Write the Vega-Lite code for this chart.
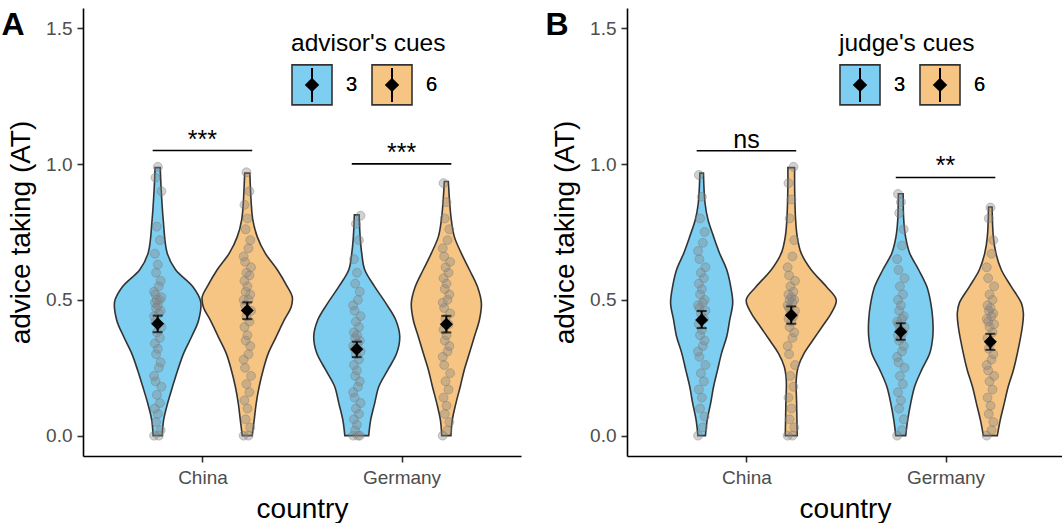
{
"$schema": "https://vega.github.io/schema/vega-lite/v6.json",
"padding": {"left": 1, "top": 8, "right": 0, "bottom": 0},
"spacing": 24,
"config": {
  "view": {"stroke": null},
  "font": "Liberation Sans",
  "axis": {"grid": false, "domainColor": "black", "domainWidth": 1.6, "tickColor": "#333333", "tickWidth": 1.6, "tickSize": 6, "labelFontSize": 19, "labelColor": "#4D4D4D", "titleFontSize": 28, "titleFontWeight": "normal", "titleColor": "black", "labelFlush": false, "labelOverlap": false},
  "axisX": {"labelPadding": 6, "titlePadding": 8},
  "axisY": {"labelPadding": 5, "titlePadding": 10},
  "title": {"fontSize": 32, "fontWeight": "bold", "color": "black", "anchor": "start", "frame": "bounds", "offset": -34, "dx": -6}
},
"datasets": {
  "violA": [
    {"country":"China","cue":"3","at":0.987,"lo":0.762,"hi":0.788},
    {"country":"China","cue":"3","at":0.917,"lo":0.758,"hi":0.792},
    {"country":"China","cue":"3","at":0.795,"lo":0.747,"hi":0.803},
    {"country":"China","cue":"3","at":0.672,"lo":0.727,"hi":0.823},
    {"country":"China","cue":"3","at":0.611,"lo":0.685,"hi":0.865},
    {"country":"China","cue":"3","at":0.549,"lo":0.599,"hi":0.951},
    {"country":"China","cue":"3","at":0.494,"lo":0.559,"hi":0.991},
    {"country":"China","cue":"3","at":0.426,"lo":0.569,"hi":0.981},
    {"country":"China","cue":"3","at":0.365,"lo":0.604,"hi":0.946},
    {"country":"China","cue":"3","at":0.304,"lo":0.644,"hi":0.906},
    {"country":"China","cue":"3","at":0.242,"lo":0.674,"hi":0.876},
    {"country":"China","cue":"3","at":0.181,"lo":0.700,"hi":0.850},
    {"country":"China","cue":"3","at":0.119,"lo":0.725,"hi":0.825},
    {"country":"China","cue":"3","at":0.058,"lo":0.745,"hi":0.805},
    {"country":"China","cue":"3","at":0.0,"lo":0.752,"hi":0.798},
    {"country":"China","cue":"6","at":0.967,"lo":1.212,"hi":1.238},
    {"country":"China","cue":"6","at":0.856,"lo":1.205,"hi":1.245},
    {"country":"China","cue":"6","at":0.795,"lo":1.197,"hi":1.253},
    {"country":"China","cue":"6","at":0.733,"lo":1.175,"hi":1.275},
    {"country":"China","cue":"6","at":0.672,"lo":1.135,"hi":1.315},
    {"country":"China","cue":"6","at":0.611,"lo":1.074,"hi":1.376},
    {"country":"China","cue":"6","at":0.549,"lo":1.024,"hi":1.426},
    {"country":"China","cue":"6","at":0.512,"lo":0.999,"hi":1.451},
    {"country":"China","cue":"6","at":0.475,"lo":1.004,"hi":1.446},
    {"country":"China","cue":"6","at":0.426,"lo":1.039,"hi":1.411},
    {"country":"China","cue":"6","at":0.365,"lo":1.079,"hi":1.371},
    {"country":"China","cue":"6","at":0.304,"lo":1.119,"hi":1.331},
    {"country":"China","cue":"6","at":0.242,"lo":1.145,"hi":1.305},
    {"country":"China","cue":"6","at":0.181,"lo":1.165,"hi":1.285},
    {"country":"China","cue":"6","at":0.119,"lo":1.180,"hi":1.270},
    {"country":"China","cue":"6","at":0.058,"lo":1.190,"hi":1.260},
    {"country":"China","cue":"6","at":0.0,"lo":1.200,"hi":1.250},
    {"country":"Germany","cue":"3","at":0.813,"lo":1.763,"hi":1.787},
    {"country":"Germany","cue":"3","at":0.733,"lo":1.758,"hi":1.792},
    {"country":"Germany","cue":"3","at":0.672,"lo":1.750,"hi":1.800},
    {"country":"Germany","cue":"3","at":0.611,"lo":1.735,"hi":1.815},
    {"country":"Germany","cue":"3","at":0.549,"lo":1.685,"hi":1.865},
    {"country":"Germany","cue":"3","at":0.488,"lo":1.629,"hi":1.921},
    {"country":"Germany","cue":"3","at":0.426,"lo":1.579,"hi":1.971},
    {"country":"Germany","cue":"3","at":0.365,"lo":1.559,"hi":1.991},
    {"country":"Germany","cue":"3","at":0.304,"lo":1.574,"hi":1.976},
    {"country":"Germany","cue":"3","at":0.242,"lo":1.619,"hi":1.931},
    {"country":"Germany","cue":"3","at":0.181,"lo":1.664,"hi":1.886},
    {"country":"Germany","cue":"3","at":0.119,"lo":1.685,"hi":1.865},
    {"country":"Germany","cue":"3","at":0.058,"lo":1.705,"hi":1.845},
    {"country":"Germany","cue":"3","at":0.0,"lo":1.715,"hi":1.835},
    {"country":"Germany","cue":"6","at":0.936,"lo":2.215,"hi":2.235},
    {"country":"Germany","cue":"6","at":0.856,"lo":2.208,"hi":2.242},
    {"country":"Germany","cue":"6","at":0.795,"lo":2.200,"hi":2.250},
    {"country":"Germany","cue":"6","at":0.733,"lo":2.185,"hi":2.265},
    {"country":"Germany","cue":"6","at":0.672,"lo":2.150,"hi":2.300},
    {"country":"Germany","cue":"6","at":0.611,"lo":2.109,"hi":2.341},
    {"country":"Germany","cue":"6","at":0.549,"lo":2.069,"hi":2.381},
    {"country":"Germany","cue":"6","at":0.488,"lo":2.049,"hi":2.401},
    {"country":"Germany","cue":"6","at":0.426,"lo":2.059,"hi":2.391},
    {"country":"Germany","cue":"6","at":0.365,"lo":2.084,"hi":2.366},
    {"country":"Germany","cue":"6","at":0.304,"lo":2.109,"hi":2.341},
    {"country":"Germany","cue":"6","at":0.242,"lo":2.135,"hi":2.315},
    {"country":"Germany","cue":"6","at":0.181,"lo":2.155,"hi":2.295},
    {"country":"Germany","cue":"6","at":0.119,"lo":2.177,"hi":2.273},
    {"country":"Germany","cue":"6","at":0.058,"lo":2.195,"hi":2.255},
    {"country":"Germany","cue":"6","at":0.0,"lo":2.202,"hi":2.248}
  ],
  "violB": [
    {"country":"China","cue":"3","at":0.967,"lo":0.766,"hi":0.784},
    {"country":"China","cue":"3","at":0.856,"lo":0.758,"hi":0.792},
    {"country":"China","cue":"3","at":0.795,"lo":0.743,"hi":0.807},
    {"country":"China","cue":"3","at":0.733,"lo":0.715,"hi":0.835},
    {"country":"China","cue":"3","at":0.672,"lo":0.685,"hi":0.865},
    {"country":"China","cue":"3","at":0.611,"lo":0.649,"hi":0.901},
    {"country":"China","cue":"3","at":0.549,"lo":0.629,"hi":0.921},
    {"country":"China","cue":"3","at":0.488,"lo":0.619,"hi":0.931},
    {"country":"China","cue":"3","at":0.426,"lo":0.634,"hi":0.916},
    {"country":"China","cue":"3","at":0.365,"lo":0.649,"hi":0.901},
    {"country":"China","cue":"3","at":0.304,"lo":0.675,"hi":0.875},
    {"country":"China","cue":"3","at":0.242,"lo":0.695,"hi":0.855},
    {"country":"China","cue":"3","at":0.181,"lo":0.715,"hi":0.835},
    {"country":"China","cue":"3","at":0.119,"lo":0.730,"hi":0.820},
    {"country":"China","cue":"3","at":0.058,"lo":0.747,"hi":0.803},
    {"country":"China","cue":"3","at":0.0,"lo":0.756,"hi":0.794},
    {"country":"China","cue":"6","at":0.987,"lo":1.208,"hi":1.242},
    {"country":"China","cue":"6","at":0.917,"lo":1.208,"hi":1.242},
    {"country":"China","cue":"6","at":0.795,"lo":1.203,"hi":1.247},
    {"country":"China","cue":"6","at":0.733,"lo":1.195,"hi":1.255},
    {"country":"China","cue":"6","at":0.672,"lo":1.175,"hi":1.275},
    {"country":"China","cue":"6","at":0.611,"lo":1.125,"hi":1.325},
    {"country":"China","cue":"6","at":0.549,"lo":1.049,"hi":1.401},
    {"country":"China","cue":"6","at":0.500,"lo":0.999,"hi":1.451},
    {"country":"China","cue":"6","at":0.451,"lo":1.024,"hi":1.426},
    {"country":"China","cue":"6","at":0.402,"lo":1.069,"hi":1.381},
    {"country":"China","cue":"6","at":0.353,"lo":1.115,"hi":1.335},
    {"country":"China","cue":"6","at":0.304,"lo":1.160,"hi":1.290},
    {"country":"China","cue":"6","at":0.254,"lo":1.190,"hi":1.260},
    {"country":"China","cue":"6","at":0.205,"lo":1.200,"hi":1.250},
    {"country":"China","cue":"6","at":0.119,"lo":1.198,"hi":1.252},
    {"country":"China","cue":"6","at":0.0,"lo":1.195,"hi":1.255},
    {"country":"Germany","cue":"3","at":0.891,"lo":1.763,"hi":1.787},
    {"country":"Germany","cue":"3","at":0.795,"lo":1.760,"hi":1.790},
    {"country":"Germany","cue":"3","at":0.733,"lo":1.751,"hi":1.799},
    {"country":"Germany","cue":"3","at":0.672,"lo":1.730,"hi":1.820},
    {"country":"Germany","cue":"3","at":0.611,"lo":1.685,"hi":1.865},
    {"country":"Germany","cue":"3","at":0.549,"lo":1.644,"hi":1.906},
    {"country":"Germany","cue":"3","at":0.488,"lo":1.624,"hi":1.926},
    {"country":"Germany","cue":"3","at":0.426,"lo":1.614,"hi":1.936},
    {"country":"Germany","cue":"3","at":0.365,"lo":1.614,"hi":1.936},
    {"country":"Germany","cue":"3","at":0.304,"lo":1.629,"hi":1.921},
    {"country":"Germany","cue":"3","at":0.242,"lo":1.670,"hi":1.880},
    {"country":"Germany","cue":"3","at":0.181,"lo":1.705,"hi":1.845},
    {"country":"Germany","cue":"3","at":0.119,"lo":1.725,"hi":1.825},
    {"country":"Germany","cue":"3","at":0.058,"lo":1.740,"hi":1.810},
    {"country":"Germany","cue":"3","at":0.0,"lo":1.750,"hi":1.800},
    {"country":"Germany","cue":"6","at":0.842,"lo":2.216,"hi":2.234},
    {"country":"Germany","cue":"6","at":0.733,"lo":2.210,"hi":2.240},
    {"country":"Germany","cue":"6","at":0.672,"lo":2.197,"hi":2.253},
    {"country":"Germany","cue":"6","at":0.611,"lo":2.170,"hi":2.280},
    {"country":"Germany","cue":"6","at":0.549,"lo":2.120,"hi":2.330},
    {"country":"Germany","cue":"6","at":0.488,"lo":2.069,"hi":2.381},
    {"country":"Germany","cue":"6","at":0.451,"lo":2.059,"hi":2.391},
    {"country":"Germany","cue":"6","at":0.402,"lo":2.064,"hi":2.386},
    {"country":"Germany","cue":"6","at":0.304,"lo":2.089,"hi":2.361},
    {"country":"Germany","cue":"6","at":0.242,"lo":2.109,"hi":2.341},
    {"country":"Germany","cue":"6","at":0.181,"lo":2.135,"hi":2.315},
    {"country":"Germany","cue":"6","at":0.119,"lo":2.155,"hi":2.295},
    {"country":"Germany","cue":"6","at":0.058,"lo":2.175,"hi":2.275},
    {"country":"Germany","cue":"6","at":0.0,"lo":2.190,"hi":2.260}
  ],
  "ptsA": [
    {"x":0.757,"at":0},{"x":0.781,"at":0},{"x":0.790,"at":0.02},{"x":0.767,"at":0.05},{"x":0.776,"at":0.08},{"x":0.761,"at":0.1},{"x":0.786,"at":0.12},{"x":0.771,"at":0.15},{"x":0.794,"at":0.18},{"x":0.764,"at":0.2},
    {"x":0.757,"at":0.22},{"x":0.781,"at":0.25},{"x":0.790,"at":0.27},{"x":0.767,"at":0.3},{"x":0.776,"at":0.32},{"x":0.761,"at":0.34},{"x":0.786,"at":0.36},{"x":0.771,"at":0.38},{"x":0.794,"at":0.4},{"x":0.764,"at":0.42},
    {"x":0.757,"at":0.44},{"x":0.781,"at":0.45},{"x":0.790,"at":0.46},{"x":0.767,"at":0.47},{"x":0.776,"at":0.48},{"x":0.761,"at":0.49},{"x":0.786,"at":0.5},{"x":0.771,"at":0.5},{"x":0.794,"at":0.51},{"x":0.764,"at":0.52},
    {"x":0.757,"at":0.53},{"x":0.781,"at":0.55},{"x":0.790,"at":0.57},{"x":0.767,"at":0.6},{"x":0.776,"at":0.63},{"x":0.761,"at":0.67},{"x":0.786,"at":0.72},{"x":0.771,"at":0.77},{"x":0.794,"at":0.9},{"x":0.764,"at":0.95},{"x":0.776,"at":0.99},
    {"x":1.207,"at":0},{"x":1.231,"at":0},{"x":1.240,"at":0.03},{"x":1.217,"at":0.06},{"x":1.226,"at":0.1},{"x":1.211,"at":0.13},{"x":1.236,"at":0.16},{"x":1.221,"at":0.19},{"x":1.244,"at":0.22},{"x":1.214,"at":0.25},
    {"x":1.207,"at":0.28},{"x":1.231,"at":0.3},{"x":1.240,"at":0.33},{"x":1.217,"at":0.35},{"x":1.226,"at":0.37},{"x":1.211,"at":0.4},{"x":1.236,"at":0.42},{"x":1.221,"at":0.44},{"x":1.244,"at":0.46},{"x":1.214,"at":0.48},
    {"x":1.207,"at":0.5},{"x":1.231,"at":0.5},{"x":1.240,"at":0.52},{"x":1.217,"at":0.53},{"x":1.226,"at":0.55},{"x":1.211,"at":0.57},{"x":1.236,"at":0.59},{"x":1.221,"at":0.6},{"x":1.244,"at":0.62},{"x":1.214,"at":0.64},
    {"x":1.207,"at":0.66},{"x":1.231,"at":0.69},{"x":1.240,"at":0.72},{"x":1.217,"at":0.76},{"x":1.226,"at":0.8},{"x":1.211,"at":0.85},{"x":1.236,"at":0.9},{"x":1.221,"at":0.97},
    {"x":1.757,"at":0},{"x":1.781,"at":0},{"x":1.790,"at":0},{"x":1.767,"at":0.02},{"x":1.776,"at":0.04},{"x":1.761,"at":0.06},{"x":1.786,"at":0.08},{"x":1.771,"at":0.1},{"x":1.794,"at":0.12},{"x":1.764,"at":0.14},
    {"x":1.757,"at":0.16},{"x":1.781,"at":0.18},{"x":1.790,"at":0.2},{"x":1.767,"at":0.22},{"x":1.776,"at":0.24},{"x":1.761,"at":0.26},{"x":1.786,"at":0.28},{"x":1.771,"at":0.3},{"x":1.794,"at":0.31},{"x":1.764,"at":0.32},
    {"x":1.757,"at":0.33},{"x":1.781,"at":0.34},{"x":1.790,"at":0.35},{"x":1.767,"at":0.36},{"x":1.776,"at":0.37},{"x":1.761,"at":0.38},{"x":1.786,"at":0.4},{"x":1.771,"at":0.42},{"x":1.794,"at":0.44},{"x":1.764,"at":0.46},
    {"x":1.757,"at":0.48},{"x":1.781,"at":0.5},{"x":1.790,"at":0.53},{"x":1.767,"at":0.56},{"x":1.776,"at":0.6},{"x":1.761,"at":0.65},{"x":1.786,"at":0.72},{"x":1.771,"at":0.78},{"x":1.794,"at":0.81},
    {"x":2.207,"at":0},{"x":2.231,"at":0.02},{"x":2.240,"at":0.05},{"x":2.217,"at":0.08},{"x":2.226,"at":0.11},{"x":2.211,"at":0.14},{"x":2.236,"at":0.17},{"x":2.221,"at":0.2},{"x":2.244,"at":0.23},{"x":2.214,"at":0.26},
    {"x":2.207,"at":0.29},{"x":2.231,"at":0.31},{"x":2.240,"at":0.33},{"x":2.217,"at":0.35},{"x":2.226,"at":0.37},{"x":2.211,"at":0.39},{"x":2.236,"at":0.41},{"x":2.221,"at":0.43},{"x":2.244,"at":0.45},{"x":2.214,"at":0.47},
    {"x":2.207,"at":0.49},{"x":2.231,"at":0.5},{"x":2.240,"at":0.52},{"x":2.217,"at":0.54},{"x":2.226,"at":0.56},{"x":2.211,"at":0.58},{"x":2.236,"at":0.6},{"x":2.221,"at":0.62},{"x":2.244,"at":0.64},{"x":2.214,"at":0.66},
    {"x":2.207,"at":0.69},{"x":2.231,"at":0.72},{"x":2.240,"at":0.76},{"x":2.217,"at":0.8},{"x":2.226,"at":0.86},{"x":2.211,"at":0.93}
  ],
  "ptsB": [
    {"x":0.757,"at":0},{"x":0.781,"at":0.03},{"x":0.790,"at":0.07},{"x":0.767,"at":0.1},{"x":0.776,"at":0.14},{"x":0.761,"at":0.17},{"x":0.786,"at":0.2},{"x":0.771,"at":0.23},{"x":0.794,"at":0.26},{"x":0.764,"at":0.29},
    {"x":0.757,"at":0.31},{"x":0.781,"at":0.33},{"x":0.790,"at":0.35},{"x":0.767,"at":0.37},{"x":0.776,"at":0.39},{"x":0.761,"at":0.41},{"x":0.786,"at":0.43},{"x":0.771,"at":0.45},{"x":0.794,"at":0.46},{"x":0.764,"at":0.47},
    {"x":0.757,"at":0.48},{"x":0.781,"at":0.49},{"x":0.790,"at":0.5},{"x":0.767,"at":0.52},{"x":0.776,"at":0.54},{"x":0.761,"at":0.56},{"x":0.786,"at":0.58},{"x":0.771,"at":0.6},{"x":0.794,"at":0.62},{"x":0.764,"at":0.65},
    {"x":0.757,"at":0.68},{"x":0.781,"at":0.71},{"x":0.790,"at":0.75},{"x":0.767,"at":0.8},{"x":0.776,"at":0.88},{"x":0.761,"at":0.96},
    {"x":1.207,"at":0},{"x":1.231,"at":0},{"x":1.240,"at":0.03},{"x":1.217,"at":0.06},{"x":1.226,"at":0.1},{"x":1.211,"at":0.14},{"x":1.236,"at":0.18},{"x":1.221,"at":0.22},{"x":1.244,"at":0.26},{"x":1.214,"at":0.3},
    {"x":1.207,"at":0.33},{"x":1.231,"at":0.36},{"x":1.240,"at":0.38},{"x":1.217,"at":0.4},{"x":1.226,"at":0.42},{"x":1.211,"at":0.43},{"x":1.236,"at":0.44},{"x":1.221,"at":0.45},{"x":1.244,"at":0.46},{"x":1.214,"at":0.47},
    {"x":1.207,"at":0.48},{"x":1.231,"at":0.49},{"x":1.240,"at":0.5},{"x":1.217,"at":0.5},{"x":1.226,"at":0.51},{"x":1.211,"at":0.52},{"x":1.236,"at":0.53},{"x":1.221,"at":0.55},{"x":1.244,"at":0.57},{"x":1.214,"at":0.59},
    {"x":1.207,"at":0.62},{"x":1.231,"at":0.66},{"x":1.240,"at":0.72},{"x":1.217,"at":0.8},{"x":1.226,"at":0.87},{"x":1.211,"at":0.93},{"x":1.236,"at":0.99},
    {"x":1.757,"at":0},{"x":1.781,"at":0.02},{"x":1.790,"at":0.06},{"x":1.767,"at":0.1},{"x":1.776,"at":0.13},{"x":1.761,"at":0.16},{"x":1.786,"at":0.19},{"x":1.771,"at":0.22},{"x":1.794,"at":0.25},{"x":1.764,"at":0.27},
    {"x":1.757,"at":0.29},{"x":1.781,"at":0.31},{"x":1.790,"at":0.33},{"x":1.767,"at":0.35},{"x":1.776,"at":0.36},{"x":1.761,"at":0.37},{"x":1.786,"at":0.38},{"x":1.771,"at":0.39},{"x":1.794,"at":0.4},{"x":1.764,"at":0.41},
    {"x":1.757,"at":0.42},{"x":1.781,"at":0.43},{"x":1.790,"at":0.44},{"x":1.767,"at":0.46},{"x":1.776,"at":0.48},{"x":1.761,"at":0.5},{"x":1.786,"at":0.52},{"x":1.771,"at":0.55},{"x":1.794,"at":0.58},{"x":1.764,"at":0.61},
    {"x":1.757,"at":0.65},{"x":1.781,"at":0.7},{"x":1.790,"at":0.76},{"x":1.767,"at":0.82},{"x":1.776,"at":0.86},{"x":1.761,"at":0.89},
    {"x":2.207,"at":0},{"x":2.231,"at":0.02},{"x":2.240,"at":0.05},{"x":2.217,"at":0.08},{"x":2.226,"at":0.11},{"x":2.211,"at":0.14},{"x":2.236,"at":0.17},{"x":2.221,"at":0.2},{"x":2.244,"at":0.22},{"x":2.214,"at":0.24},
    {"x":2.207,"at":0.26},{"x":2.231,"at":0.28},{"x":2.240,"at":0.3},{"x":2.217,"at":0.32},{"x":2.226,"at":0.34},{"x":2.211,"at":0.36},{"x":2.236,"at":0.38},{"x":2.221,"at":0.4},{"x":2.244,"at":0.41},{"x":2.214,"at":0.42},
    {"x":2.207,"at":0.43},{"x":2.231,"at":0.44},{"x":2.240,"at":0.45},{"x":2.217,"at":0.46},{"x":2.226,"at":0.47},{"x":2.211,"at":0.48},{"x":2.236,"at":0.5},{"x":2.221,"at":0.52},{"x":2.244,"at":0.55},{"x":2.214,"at":0.58},
    {"x":2.207,"at":0.62},{"x":2.231,"at":0.67},{"x":2.240,"at":0.72},{"x":2.217,"at":0.8},{"x":2.226,"at":0.84}
  ],
  "meanA": [
    {"country":"China","cue":"3","x":0.775,"m":0.412,"lo":0.381,"hi":0.442},
    {"country":"China","cue":"6","x":1.225,"m":0.461,"lo":0.429,"hi":0.491},
    {"country":"Germany","cue":"3","x":1.775,"m":0.318,"lo":0.289,"hi":0.346},
    {"country":"Germany","cue":"6","x":2.225,"m":0.410,"lo":0.380,"hi":0.441}
  ],
  "meanB": [
    {"country":"China","cue":"3","x":0.775,"m":0.426,"lo":0.396,"hi":0.459},
    {"country":"China","cue":"6","x":1.225,"m":0.443,"lo":0.412,"hi":0.476},
    {"country":"Germany","cue":"3","x":1.775,"m":0.383,"lo":0.353,"hi":0.414},
    {"country":"Germany","cue":"6","x":2.225,"m":0.346,"lo":0.316,"hi":0.375}
  ],
  "sigA": [
    {"x1":0.75,"x2":1.25,"xm":1.0,"y":1.050,"label":"***"},
    {"x1":1.75,"x2":2.25,"xm":2.0,"y":1.001,"label":"***"}
  ],
  "sigB": [
    {"x1":0.75,"x2":1.25,"xm":1.0,"y":1.049,"label":"ns"},
    {"x1":1.75,"x2":2.25,"xm":2.0,"y":0.951,"label":"**"}
  ]
},
"resolve": {
  "scale": {"x": "independent", "y": "independent", "color": "independent", "opacity": "independent"},
  "legend": {"color": "independent", "opacity": "independent"}
},
"hconcat": [
  {
    "width": 438, "height": 448,
    "title": {"text": "A"},
    "layer": [
      {
        "data": {"name": "violA"},
        "mark": {"type": "area", "orient": "horizontal", "interpolate": "catmull-rom", "stroke": "#333333", "strokeWidth": 1.6, "opacity": 1},
        "encoding": {
          "y": {"field": "at", "type": "quantitative", "scale": {"domain": [-0.075, 1.575], "nice": false, "zero": false}, "axis": {"title": "advice taking (AT)", "values": [0, 0.5, 1, 1.5], "format": ".1f"}},
          "x": {"field": "lo", "type": "quantitative", "stack": null, "scale": {"domain": [0.4, 2.6], "nice": false, "zero": false}, "axis": {"title": "country", "values": [1, 2], "labelExpr": "datum.value == 1 ? 'China' : 'Germany'"}},
          "x2": {"field": "hi"},
          "color": {"field": "cue", "type": "nominal", "scale": {"domain": ["3", "6"], "range": ["#7DCEF0", "#F6C583"]},
            "legend": {"title": "advisor's cues", "orient": "none", "legendX": 208, "legendY": 24, "direction": "horizontal", "symbolType": "square", "symbolSize": 1600, "symbolStrokeColor": "#333333", "symbolStrokeWidth": 1.6, "symbolOpacity": 1, "labelFontSize": 20, "labelColor": "black", "labelOffset": 13, "columnPadding": 10, "titleFontSize": 24.5, "titleFontWeight": "normal", "titleColor": "black", "titlePadding": 7}},
          "detail": {"field": "country"}
        }
      },
      {
        "data": {"name": "ptsA"},
        "mark": {"type": "point", "filled": true, "fill": "#858585", "stroke": "#777777", "fillOpacity": 0.38, "strokeOpacity": 0.4, "strokeWidth": 1, "size": 80},
        "encoding": {
          "x": {"field": "x", "type": "quantitative"},
          "y": {"field": "at", "type": "quantitative"}
        }
      },
      {
        "data": {"name": "sigA"},
        "mark": {"type": "rule", "color": "black", "strokeWidth": 1.6},
        "encoding": {
          "x": {"field": "x1", "type": "quantitative"},
          "x2": {"field": "x2"},
          "y": {"field": "y", "type": "quantitative"}
        }
      },
      {
        "data": {"name": "sigA"},
        "mark": {"type": "text", "fontSize": 25, "color": "black", "baseline": "alphabetic", "dy": -3},
        "encoding": {
          "x": {"field": "xm", "type": "quantitative"},
          "y": {"field": "y", "type": "quantitative"},
          "text": {"field": "label"}
        }
      },
      {
        "data": {"name": "meanA"},
        "mark": {"type": "rule", "color": "black", "strokeWidth": 2},
        "encoding": {
          "x": {"field": "x", "type": "quantitative"},
          "y": {"field": "lo", "type": "quantitative"},
          "y2": {"field": "hi"}
        }
      },
      {
        "data": {"name": "meanA"},
        "mark": {"type": "tick", "orient": "horizontal", "color": "black", "size": 10, "thickness": 2},
        "encoding": {
          "x": {"field": "x", "type": "quantitative"},
          "y": {"field": "lo", "type": "quantitative"}
        }
      },
      {
        "data": {"name": "meanA"},
        "mark": {"type": "tick", "orient": "horizontal", "color": "black", "size": 10, "thickness": 2},
        "encoding": {
          "x": {"field": "x", "type": "quantitative"},
          "y": {"field": "hi", "type": "quantitative"}
        }
      },
      {
        "data": {"name": "meanA"},
        "mark": {"type": "point", "shape": "diamond", "filled": true, "color": "black", "size": 170},
        "encoding": {
          "x": {"field": "x", "type": "quantitative"},
          "y": {"field": "m", "type": "quantitative"},
          "opacity": {"field": "cue", "type": "ordinal", "scale": {"range": [1, 1]},
            "legend": {"title": null, "orient": "none", "legendX": 208, "legendY": 55.5, "direction": "horizontal", "symbolType": "M-1,-1L-0.999,-1L-1,-0.999Z M1,1L0.999,1L1,0.999Z M-0.05,-0.85L0.05,-0.85L0.05,0.85L-0.05,0.85Z M0,-0.36L0.36,0L0,0.36L-0.36,0Z", "symbolSize": 1600, "symbolFillColor": "black", "symbolStrokeColor": "black", "symbolStrokeWidth": 1.6, "labelFontSize": 20, "labelColor": "black", "labelOffset": 13, "columnPadding": 10}}
        }
      }
    ]
  },
  {
    "width": 436, "height": 448,
    "title": {"text": "B"},
    "layer": [
      {
        "data": {"name": "violB"},
        "mark": {"type": "area", "orient": "horizontal", "interpolate": "catmull-rom", "stroke": "#333333", "strokeWidth": 1.6, "opacity": 1},
        "encoding": {
          "y": {"field": "at", "type": "quantitative", "scale": {"domain": [-0.075, 1.575], "nice": false, "zero": false}, "axis": {"title": "advice taking (AT)", "values": [0, 0.5, 1, 1.5], "format": ".1f"}},
          "x": {"field": "lo", "type": "quantitative", "stack": null, "scale": {"domain": [0.4, 2.59], "nice": false, "zero": false}, "axis": {"title": "country", "values": [1, 2], "labelExpr": "datum.value == 1 ? 'China' : 'Germany'"}},
          "x2": {"field": "hi"},
          "color": {"field": "cue", "type": "nominal", "scale": {"domain": ["3", "6"], "range": ["#7DCEF0", "#F6C583"]},
            "legend": {"title": "judge's cues", "orient": "none", "legendX": 212, "legendY": 24, "direction": "horizontal", "symbolType": "square", "symbolSize": 1600, "symbolStrokeColor": "#333333", "symbolStrokeWidth": 1.6, "symbolOpacity": 1, "labelFontSize": 20, "labelColor": "black", "labelOffset": 13, "columnPadding": 10, "titleFontSize": 24.5, "titleFontWeight": "normal", "titleColor": "black", "titlePadding": 7}},
          "detail": {"field": "country"}
        }
      },
      {
        "data": {"name": "ptsB"},
        "mark": {"type": "point", "filled": true, "fill": "#858585", "stroke": "#777777", "fillOpacity": 0.38, "strokeOpacity": 0.4, "strokeWidth": 1, "size": 80},
        "encoding": {
          "x": {"field": "x", "type": "quantitative"},
          "y": {"field": "at", "type": "quantitative"}
        }
      },
      {
        "data": {"name": "sigB"},
        "mark": {"type": "rule", "color": "black", "strokeWidth": 1.6},
        "encoding": {
          "x": {"field": "x1", "type": "quantitative"},
          "x2": {"field": "x2"},
          "y": {"field": "y", "type": "quantitative"}
        }
      },
      {
        "data": {"name": "sigB"},
        "mark": {"type": "text", "fontSize": 25, "color": "black", "baseline": "alphabetic", "dy": -3},
        "encoding": {
          "x": {"field": "xm", "type": "quantitative"},
          "y": {"field": "y", "type": "quantitative"},
          "text": {"field": "label"}
        }
      },
      {
        "data": {"name": "meanB"},
        "mark": {"type": "rule", "color": "black", "strokeWidth": 2},
        "encoding": {
          "x": {"field": "x", "type": "quantitative"},
          "y": {"field": "lo", "type": "quantitative"},
          "y2": {"field": "hi"}
        }
      },
      {
        "data": {"name": "meanB"},
        "mark": {"type": "tick", "orient": "horizontal", "color": "black", "size": 10, "thickness": 2},
        "encoding": {
          "x": {"field": "x", "type": "quantitative"},
          "y": {"field": "lo", "type": "quantitative"}
        }
      },
      {
        "data": {"name": "meanB"},
        "mark": {"type": "tick", "orient": "horizontal", "color": "black", "size": 10, "thickness": 2},
        "encoding": {
          "x": {"field": "x", "type": "quantitative"},
          "y": {"field": "hi", "type": "quantitative"}
        }
      },
      {
        "data": {"name": "meanB"},
        "mark": {"type": "point", "shape": "diamond", "filled": true, "color": "black", "size": 170},
        "encoding": {
          "x": {"field": "x", "type": "quantitative"},
          "y": {"field": "m", "type": "quantitative"},
          "opacity": {"field": "cue", "type": "ordinal", "scale": {"range": [1, 1]},
            "legend": {"title": null, "orient": "none", "legendX": 212, "legendY": 55.5, "direction": "horizontal", "symbolType": "M-1,-1L-0.999,-1L-1,-0.999Z M1,1L0.999,1L1,0.999Z M-0.05,-0.85L0.05,-0.85L0.05,0.85L-0.05,0.85Z M0,-0.36L0.36,0L0,0.36L-0.36,0Z", "symbolSize": 1600, "symbolFillColor": "black", "symbolStrokeColor": "black", "symbolStrokeWidth": 1.6, "labelFontSize": 20, "labelColor": "black", "labelOffset": 13, "columnPadding": 10}}
        }
      }
    ]
  }
]
}
